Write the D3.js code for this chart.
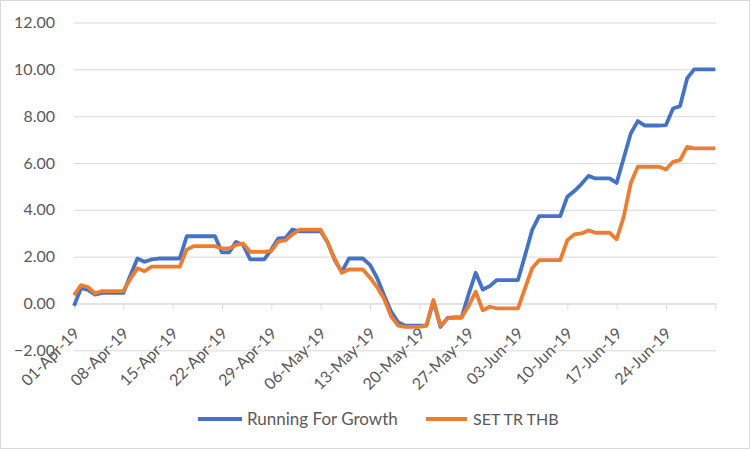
<!DOCTYPE html>
<html>
<head>
<meta charset="utf-8">
<script src="https://cdn.jsdelivr.net/npm/d3@7"></script>
<style>
  html, body { margin: 0; padding: 0; background: #fff; }
  svg { display: block; }
  text { font-family: Lato, "Liberation Sans", Arial, sans-serif; fill: #595959; }
</style>
</head>
<body>
<svg id="chart" width="750" height="449"></svg>
<script>
// ---- data ----
const startDate = "2019-04-01";
const endDate = "2019-07-01";
const seriesNames = ["Running For Growth", "SET TR THB"];
const runningForGrowth = [
  -0.10, 0.65, 0.58, 0.38, 0.45, 0.45, 0.45, 0.45, 1.20, 1.92,
  1.78, 1.88, 1.92, 1.92, 1.92, 1.92, 2.87, 2.87, 2.87, 2.87,
  2.87, 2.18, 2.18, 2.63, 2.50, 1.88, 1.88, 1.88, 2.30, 2.78,
  2.80, 3.16, 3.08, 3.08, 3.08, 3.08, 2.60, 1.85, 1.35, 1.92,
  1.92, 1.92, 1.65, 1.10, 0.35, -0.35, -0.80, -0.95, -0.95, -0.95,
  -0.95, 0.10, -1.00, -0.62, -0.60, -0.60, 0.40, 1.31, 0.60, 0.74,
  1.00, 1.00, 1.00, 1.00, 2.05, 3.13, 3.73, 3.73, 3.73, 3.73,
  4.56, 4.80, 5.10, 5.45, 5.34, 5.34, 5.34, 5.15, 6.20, 7.26,
  7.79, 7.60, 7.60, 7.60, 7.62, 8.33, 8.43, 9.61, 10.00, 10.00,
  10.00, 10.00
];
const setTrThb = [
  0.35, 0.78, 0.70, 0.43, 0.53, 0.53, 0.53, 0.53, 1.05, 1.50,
  1.38, 1.57, 1.57, 1.57, 1.57, 1.57, 2.30, 2.45, 2.45, 2.45,
  2.45, 2.35, 2.35, 2.50, 2.56, 2.20, 2.20, 2.20, 2.25, 2.65,
  2.70, 2.95, 3.15, 3.15, 3.15, 3.15, 2.60, 1.90, 1.31, 1.45,
  1.45, 1.45, 1.10, 0.70, 0.20, -0.55, -0.95, -1.00, -1.00, -1.00,
  -0.95, 0.15, -0.95, -0.64, -0.60, -0.60, -0.10, 0.50, -0.29, -0.14,
  -0.21, -0.21, -0.21, -0.21, 0.65, 1.50, 1.85, 1.85, 1.85, 1.85,
  2.70, 2.95, 2.99, 3.12, 3.02, 3.02, 3.02, 2.74, 3.70, 5.13,
  5.84, 5.84, 5.84, 5.84, 5.72, 6.05, 6.12, 6.69, 6.62, 6.62,
  6.62, 6.62
];
const xTickDates = ["2019-04-01","2019-04-08","2019-04-15","2019-04-22","2019-04-29",
  "2019-05-06","2019-05-13","2019-05-20","2019-05-27","2019-06-03","2019-06-10",
  "2019-06-17","2019-06-24","2019-07-01"];
const xTickLabels = ["01-Apr-19","08-Apr-19","15-Apr-19","22-Apr-19","29-Apr-19",
  "06-May-19","13-May-19","20-May-19","27-May-19","03-Jun-19","10-Jun-19",
  "17-Jun-19","24-Jun-19",""];
const yTicks = [-2, 0, 2, 4, 6, 8, 10, 12];
const colors = ["#4472C4", "#ED7D31"];

// ---- build ----
const parse = d3.utcParse("%Y-%m-%d");
const dates = d3.utcDay.range(parse(startDate), d3.utcDay.offset(parse(endDate), 1));
const series = [runningForGrowth, setTrThb].map((vals, i) => ({
  name: seriesNames[i], color: colors[i],
  points: vals.map((v, j) => ({ date: dates[j], value: v }))
}));

const svg = d3.select("#chart");
const W = 750, H = 449;
const pLeft = 74, pRight = 715.3, pTop = 22.5, pBottom = 350.3;

svg.append("rect").attr("x", 0.5).attr("y", 0.5).attr("width", W - 1).attr("height", H - 1)
  .attr("fill", "#fff").attr("stroke", "#d9d9d9").attr("stroke-width", 1);

const x = d3.scaleUtc().domain([parse(startDate), parse(endDate)]).range([pLeft, pRight]);
const y = d3.scaleLinear().domain([-2, 12]).range([pBottom, pTop]);

// y axis + gridlines
const yAxis = svg.append("g").attr("transform", `translate(${pLeft},0)`)
  .call(d3.axisLeft(y).tickValues(yTicks).tickFormat(d3.format(".2f"))
    .tickSize(-(pRight - pLeft + 1)).tickPadding(19));
yAxis.select(".domain").remove();
yAxis.selectAll(".tick line").attr("stroke", "#d9d9d9").attr("stroke-width", 1);
yAxis.selectAll(".tick text").attr("font-size", 16).attr("fill", "#595959")
  .style("font-family", "Lato, 'Liberation Sans', sans-serif");

// x axis at zero
const xAxis = svg.append("g").attr("transform", `translate(0,${y(0)})`)
  .call(d3.axisBottom(x).tickValues(xTickDates.map(parse))
    .tickFormat((d, i) => xTickLabels[i]).tickSize(6).tickSizeOuter(0));
xAxis.select(".domain").attr("stroke", "#d9d9d9").attr("d", `M${pLeft},0.5H${pRight + 1}`);
xAxis.selectAll(".tick line").attr("stroke", "#d9d9d9");
xAxis.selectAll(".tick text")
  .attr("font-size", 16).attr("fill", "#595959")
  .style("font-family", "Lato, 'Liberation Sans', sans-serif")
  .attr("text-anchor", "end")
  .attr("dy", "0.35em")
  .attr("y", 0).attr("x", 0)
  .attr("transform", "translate(2,27) rotate(-45)");

// lines
const line = d3.line().x(d => x(d.date)).y(d => y(d.value)).curve(d3.curveLinear);
svg.append("g").selectAll("path").data(series).join("path")
  .attr("d", d => line(d.points))
  .attr("fill", "none")
  .attr("stroke", d => d.color)
  .attr("stroke-width", 3.8)
  .attr("stroke-linejoin", "round")
  .attr("stroke-linecap", "butt");

// legend
const legendItems = [
  { x1: 198, x2: 242, tx: 247, fs: 17 },
  { x1: 426, x2: 467, tx: 473, fs: 16 }
];
const lg = svg.append("g");
legendItems.forEach((it, i) => {
  lg.append("line").attr("x1", it.x1).attr("x2", it.x2).attr("y1", 419).attr("y2", 419)
    .attr("stroke", colors[i]).attr("stroke-width", 3.8);
  lg.append("text").attr("x", it.tx).attr("y", 419).attr("dy", "0.35em")
    .attr("font-size", it.fs).text(seriesNames[i]);
});
</script>
</body>
</html>
